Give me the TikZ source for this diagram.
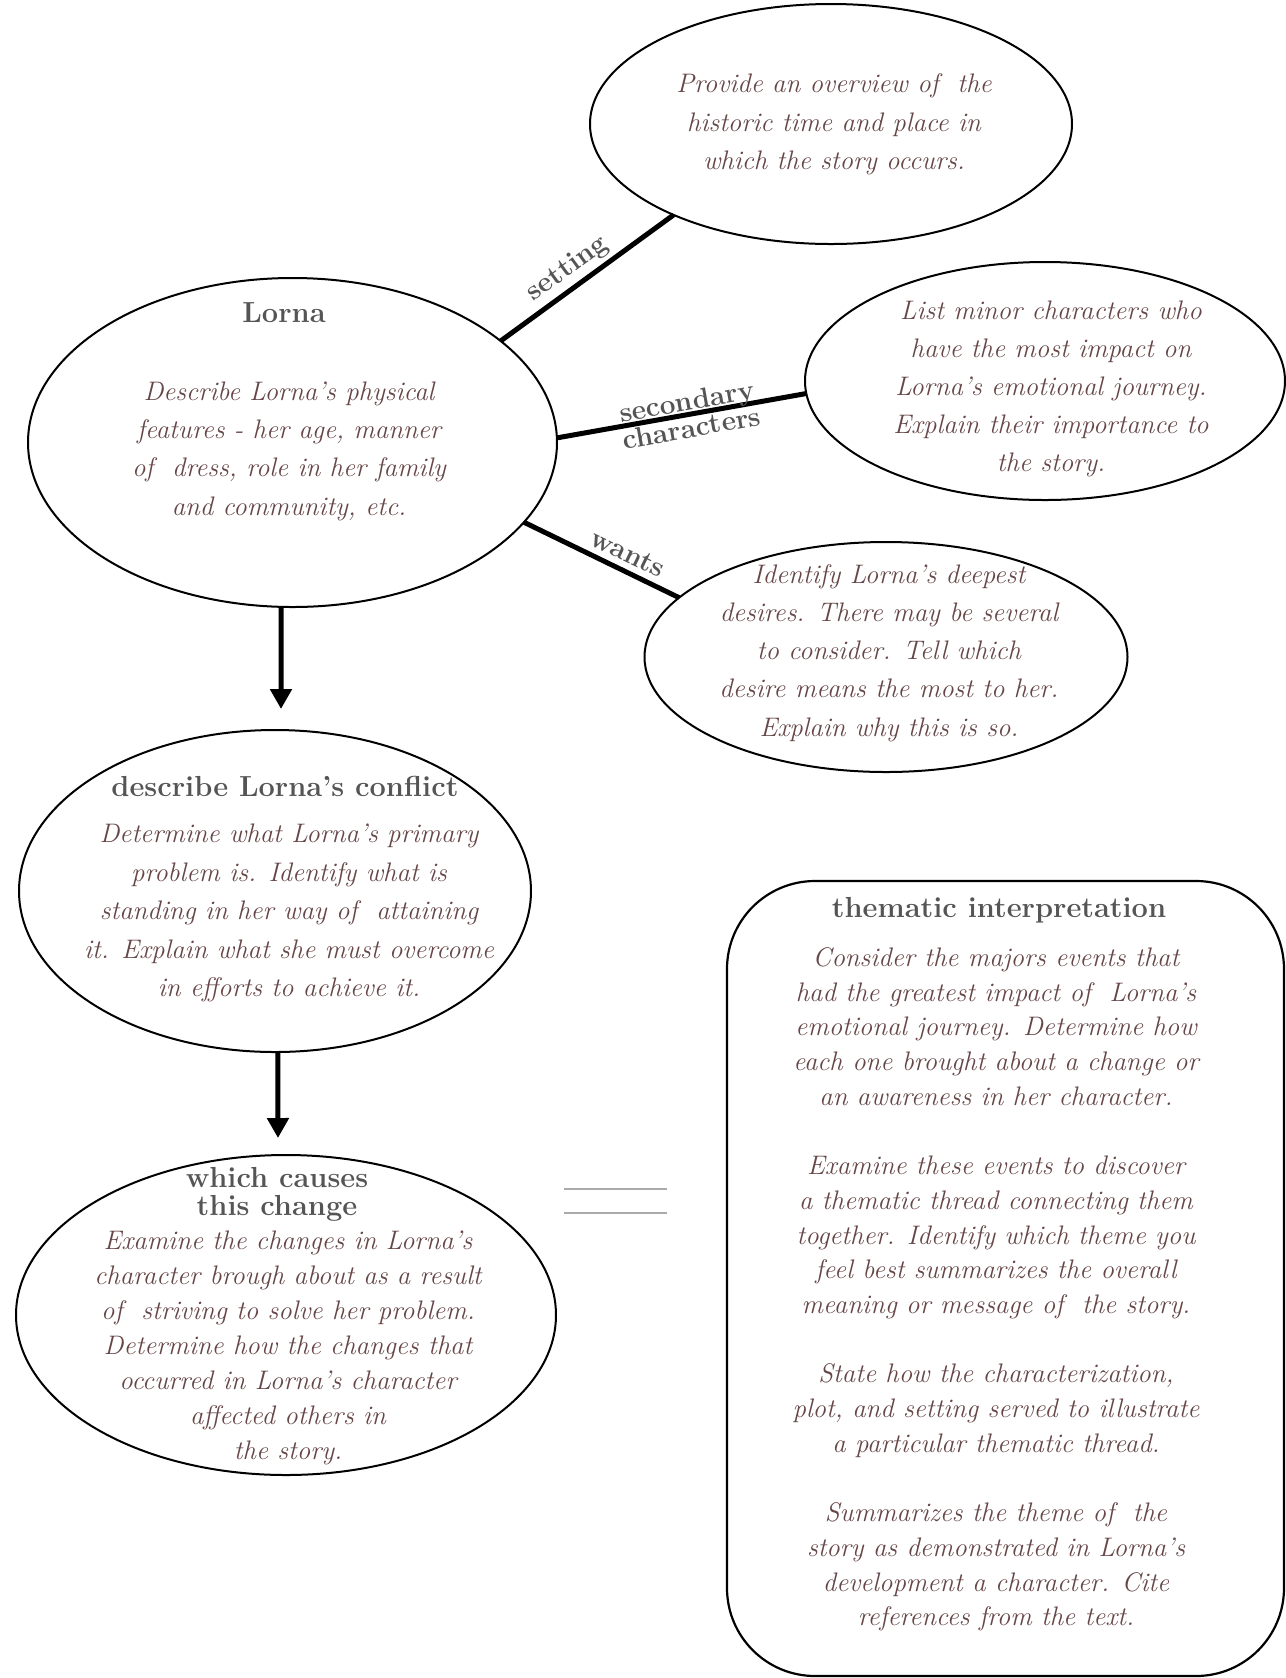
\documentclass[tikz,border=0pt]{standalone}
\usepackage{fontspec}
\usetikzlibrary{shapes.geometric,arrows.meta}
\definecolor{bodyc}{RGB}{102,70,70}
\definecolor{titlec}{RGB}{85,85,85}
\definecolor{rulec}{RGB}{170,170,170}
\begin{document}
\begin{tikzpicture}[x=0.5pt,y=-0.5pt,
  oval/.style={ellipse,draw,line width=1pt,inner sep=0pt,outer sep=0pt},
  body/.style={text=bodyc,align=center,inner sep=0pt,font=\fontsize{13.4pt}{#1}\selectfont\itshape},
  head/.style={text=titlec,align=center,inner sep=0pt,font=\fontsize{14.5pt}{14pt}\selectfont\bfseries},
  conn/.style={line width=2.5pt},
  arr/.style={line width=2.5pt,-{Triangle[width=10.5pt,length=10pt]}},
  elab/.style={text=titlec,inner sep=2pt,font=\fontsize{14pt}{13.5pt}\selectfont\bfseries}]
\useasboundingbox (0,0) rectangle (1286,1678);

% shapes
\node[oval,minimum width=241pt,minimum height=120pt] (setE) at (831,124) {};
\node[oval,minimum width=264.5pt,minimum height=164.5pt] (lorna) at (292.5,442.5) {};
\node[oval,minimum width=240pt,minimum height=119pt] (secE) at (1045,381) {};
\node[oval,minimum width=241.5pt,minimum height=115pt] (wantsE) at (886,657) {};
\node[oval,minimum width=256pt,minimum height=161pt] (confE) at (275,891) {};
\node[oval,minimum width=270pt,minimum height=160pt] (chgE) at (286,1315) {};
\node[draw,line width=1.1pt,rounded corners=44pt,minimum width=278.5pt,minimum height=397.5pt,inner sep=0pt,outer sep=0pt] (themeB) at (1005.5,1278.5) {};

% texts
\node[body=19.25pt] (setT) at (834,124.5) {Provide an overview of\ \ the\\historic time and place in\\which the story occurs.};
\node[head] (lornaH) at (284,313) {Lorna};
\node[body=19.15pt] (lornaT) at (289,451) {Describe Lorna's physical\\features - her age, manner\\of\ \ dress, role in her family\\and community, etc.};
\node[body=19.1pt] (secT) at (1051,389) {List minor characters who\\have the most impact on\\Lorna's emotional journey.\\Explain their importance to\\the story.};
\node[body=19.1pt] (wantsT) at (889,653) {Identify Lorna's deepest\\desires. There may be several\\to consider. Tell which\\desire means the most to her.\\Explain why this is so.};
\node[head] (confH) at (285,786) {describe Lorna's conflict};
\node[body=19.25pt] (confT) at (289,913) {Determine what Lorna's primary\\problem is. Identify what is\\standing in her way of\ \ attaining\\it. Explain what she must overcome\\in efforts to achieve it.};
\node[head] (chgH) at (277,1194) {which causes\\this change};
\node[body=17.5pt] (chgT) at (288,1348) {Examine the changes in Lorna's\\character brough about as a result\\of\ \ striving to solve her problem.\\Determine how the changes that\\occurred in Lorna's character\\affected others in\\the story.};
\node[head] (themeH) at (999,910) {thematic interpretation};
\node[body=17.35pt] (themeT) at (996,1289.5) {Consider the majors events that\\had the greatest impact of\ \ Lorna's\\emotional journey. Determine how\\each one brought about a change or\\an awareness in her character.\\[17.35pt]
Examine these events to discover\\a thematic thread connecting them\\together. Identify which theme you\\feel best summarizes the overall\\meaning or message of\ \ the story.\\[17.35pt]
State how the characterization,\\plot, and setting served to illustrate\\a particular thematic thread.\\[17.35pt]
Summarizes the theme of\ \ the\\story as demonstrated in Lorna's\\development a character. Cite\\references from the text.};

% connectors
\draw[conn] (lorna.26) -- node[elab,sloped,above,pos=0.45] {setting} (setE.210);
\draw[conn] (lorna.1) -- node[elab,sloped,align=center,pos=0.53] {secondary\\characters} (secE.183);
\draw[conn] (lorna.-19.5) -- node[elab,sloped,above,pos=0.62,inner sep=3pt] {wants} (wantsE.164);

\coordinate (a1) at (281,709);
\coordinate (a2) at (278,1138);
\draw[arr] (lorna.266) -- (a1);
\draw[arr] (confE.271) -- (a2);

% grey rules
\draw[rulec,line width=0.75pt] (564,1189) -- (667,1189);
\draw[rulec,line width=0.75pt] (564,1213) -- (667,1213);
\end{tikzpicture}
\end{document}
